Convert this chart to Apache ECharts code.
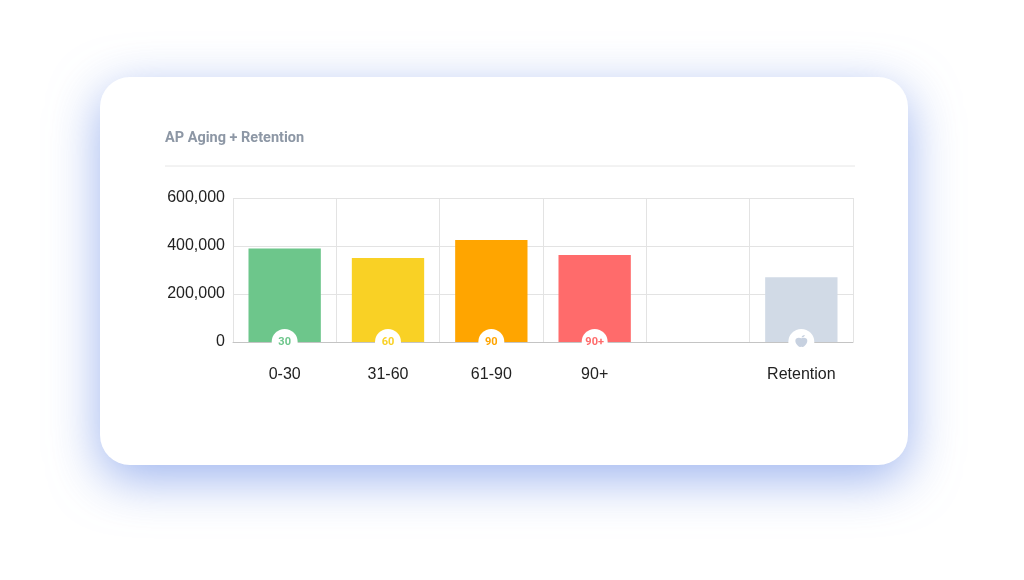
<!DOCTYPE html>
<html>

<head>
    <meta http-equiv="Content-Type" content="text/html; charset=utf-8" />
    <script type="text/javascript" src="https://cdn.jsdelivr.net/npm/echarts@6/dist/echarts.min.js"></script>
    <title>AP Aging + Retention</title>
    <style>
        html, body { margin: 0; padding: 0; background: #fff; }
        #chart { width: 1024px; height: 580px; }
    </style>
</head>

<body>
    <div id="chart"></div>
</body>

</html>
<script type="text/javascript">
// 分类和数值
var categories = ['0-30', '31-60', '61-90', '90+', '', 'Retention'];
var amounts = [390000, 350000, 425000, 362000, null, 270000];
var barColors = ['#6dc68b', '#f9d125', '#ffa500', '#ff6b6b', '#ffffff', '#d1dae6'];
var badgeTexts = ['30', '60', '90', '90+', '', ''];
var badgeValues = [0, 0, 0, 0, null, 0];
var iconValues = [null, null, null, null, null, 0];

var applePath = 'path://M12 7.2C10.4 6.1 7.9 5.9 6.4 7.5 4.8 9.2 5 12.7 6.5 15.6 7.7 18 9.5 20.1 11 19.7c0.5-0.1 0.7-0.4 1-0.4s0.5 0.3 1 0.4c1.5 0.4 3.3-1.7 4.5-4.1C19 12.7 19.2 9.2 17.6 7.5 16.1 5.9 13.6 6.1 12 7.2zM12.3 6C12.4 4.1 13.9 2.6 15.9 2.5 15.8 4.4 14.3 5.9 12.3 6z';

var labelFont = '"Liberation Sans", Arial, sans-serif';

var myChart = echarts.init(document.getElementById('chart'));

var barData = amounts.map(function(v, i) {
    return { value: v, itemStyle: { color: barColors[i] } };
});

var badgeData = badgeValues.map(function(v, i) {
    return {
        value: v,
        label: { formatter: badgeTexts[i], color: barColors[i] }
    };
});

myChart.setOption({
    backgroundColor: '#ffffff',
    animation: false,
    textStyle: { fontFamily: labelFont },
    graphic: {
        elements: [{
            // 卡片
            type: 'rect',
            z: -100,
            shape: { x: 100, y: 77, width: 808, height: 388, r: 30 },
            style: {
                fill: '#ffffff',
                shadowBlur: 50,
                shadowOffsetY: 14,
                shadowColor: 'rgba(105, 140, 230, 0.65)'
            }
        }, {
            type: 'text',
            left: 165,
            top: 131,
            style: {
                text: 'AP Aging + Retention',
                fill: '#8d97a5',
                font: 'bold 14.5px Roboto, "Noto Sans", sans-serif'
            }
        }, {
            type: 'line',
            shape: { x1: 165, y1: 166, x2: 855, y2: 166 },
            style: { stroke: '#e6e6e6', lineWidth: 1 }
        }]
    },
    grid: {
        left: 233,
        right: 171,
        top: 198,
        bottom: 238
    },
    xAxis: {
        type: 'category',
        data: categories,
        axisTick: { show: false },
        axisLine: { lineStyle: { color: '#c4c4c4' } },
        axisLabel: { color: '#222', fontSize: 16, margin: 25 },
        splitLine: { show: true, lineStyle: { color: '#e3e3e3' } }
    },
    yAxis: {
        type: 'value',
        min: 0,
        max: 600000,
        interval: 200000,
        axisLine: { show: false },
        axisTick: { show: false },
        axisLabel: {
            color: '#222',
            fontSize: 16,
            margin: 8,
            verticalAlign: 'middle',
            padding: [3, 0, 0, 0],
            formatter: function(v) { return v.toLocaleString('en-US'); }
        },
        splitLine: { lineStyle: { color: '#e3e3e3' } }
    },
    series: [{
        type: 'bar',
        data: barData,
        barWidth: '70%',
        z: 2
    }, {
        // 圆形标记
        type: 'scatter',
        data: badgeData,
        symbol: 'circle',
        symbolSize: 26,
        clip: false,
        z: 5,
        itemStyle: { color: '#ffffff', opacity: 1 },
        label: {
            show: true,
            position: 'inside',
            fontSize: 11,
            fontWeight: 'bold',
            fontFamily: 'Roboto, sans-serif'
        }
    }, {
        type: 'scatter',
        data: iconValues,
        symbol: applePath,
        symbolSize: 12,
        symbolOffset: [0, -1],
        clip: false,
        z: 6,
        itemStyle: { color: '#c7d1e0', opacity: 1 }
    }]
});
</script>
